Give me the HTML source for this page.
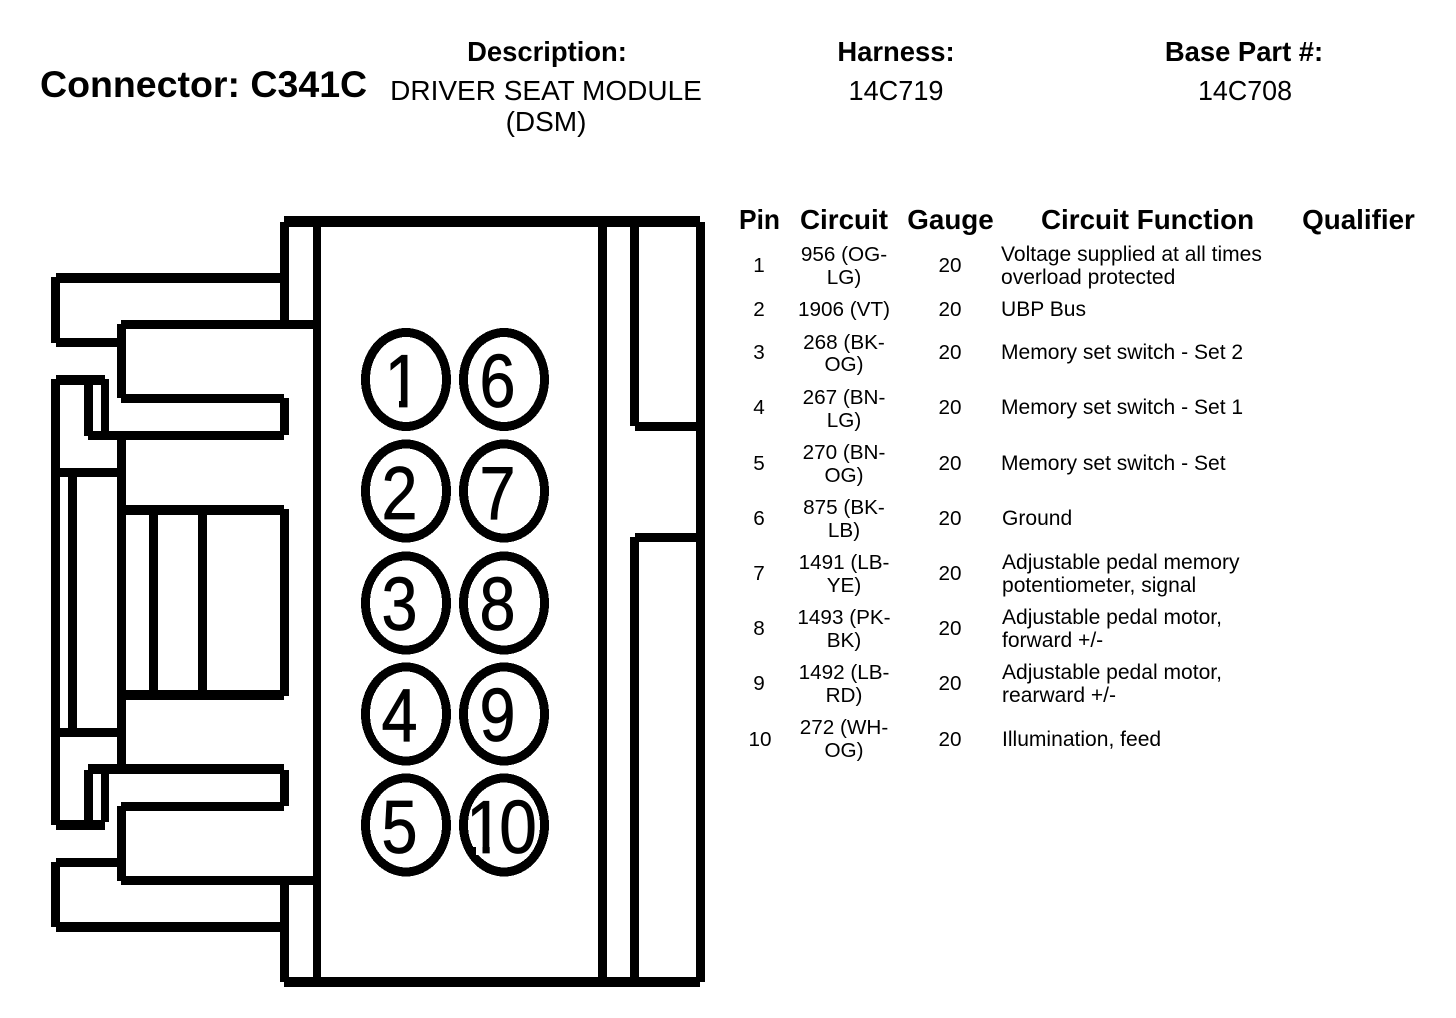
<!DOCTYPE html>
<html><head><meta charset="utf-8"><title>Connector C341C</title>
<style>
html,body{margin:0;padding:0;background:#fff;width:1456px;height:1018px;overflow:hidden}
svg{display:block}
text{font-family:"Liberation Sans",Arial,sans-serif;fill:#000}
.h{font-weight:bold;font-size:27.4px;text-anchor:middle}
.t{font-weight:bold;font-size:27.8px;text-anchor:middle}
.v{font-size:28px;text-anchor:middle}
.r{font-size:20.7px}
.f{font-size:21.05px}
.c{text-anchor:middle}
.n{font-size:75px;text-anchor:middle;stroke:#000;stroke-width:.8px}
.m{font-size:75px;stroke:#000;stroke-width:.8px}
.b rect{fill:#000}
ellipse{fill:#fff;stroke:#000;stroke-width:9}
</style></head><body>
<svg width="1456" height="1018" viewBox="0 0 1456 1018" xmlns="http://www.w3.org/2000/svg">
<rect width="1456" height="1018" fill="#fff"/>
<g class="b" shape-rendering="crispEdges">
<rect x="284" y="216" width="416" height="11"/>
<rect x="284" y="977" width="416" height="10"/>
<rect x="280" y="222" width="9" height="103"/>
<rect x="280" y="880" width="9" height="102"/>
<rect x="313" y="222" width="8" height="760"/>
<rect x="598" y="222" width="9" height="760"/>
<rect x="630" y="222" width="9" height="204"/>
<rect x="630" y="537" width="9" height="445"/>
<rect x="696" y="222" width="9" height="760"/>
<rect x="635" y="422" width="61" height="9"/>
<rect x="635" y="533" width="61" height="9"/>
<rect x="56" y="273" width="224" height="10"/>
<rect x="51" y="277" width="9" height="66"/>
<rect x="56" y="338" width="61" height="9"/>
<rect x="121" y="320" width="192" height="9"/>
<rect x="117" y="324" width="9" height="74"/>
<rect x="121" y="394" width="163" height="9"/>
<rect x="280" y="398" width="9" height="37"/>
<rect x="88" y="431" width="196" height="9"/>
<rect x="84" y="381" width="9" height="55"/>
<rect x="101" y="379" width="8" height="52"/>
<rect x="56" y="375" width="49" height="10"/>
<rect x="51" y="379" width="9" height="446"/>
<rect x="117" y="440" width="9" height="324"/>
<rect x="60" y="468" width="57" height="9"/>
<rect x="68" y="477" width="9" height="251"/>
<rect x="126" y="505" width="158" height="10"/>
<rect x="280" y="509" width="9" height="187"/>
<rect x="126" y="690" width="158" height="10"/>
<rect x="149" y="515" width="9" height="175"/>
<rect x="198" y="515" width="9" height="175"/>
<rect x="60" y="728" width="57" height="9"/>
<rect x="88" y="764" width="196" height="10"/>
<rect x="84" y="770" width="9" height="55"/>
<rect x="101" y="774" width="8" height="48"/>
<rect x="56" y="820" width="49" height="10"/>
<rect x="280" y="770" width="9" height="36"/>
<rect x="121" y="802" width="163" height="9"/>
<rect x="117" y="806" width="9" height="75"/>
<rect x="121" y="876" width="192" height="9"/>
<rect x="56" y="858" width="61" height="9"/>
<rect x="51" y="862" width="9" height="65"/>
<rect x="56" y="922" width="224" height="10"/>
</g>
<g shape-rendering="crispEdges">
<ellipse cx="406" cy="379.5" rx="40.5" ry="47"/>
<ellipse cx="504" cy="379.5" rx="40.5" ry="47"/>
<ellipse cx="406" cy="491" rx="40.5" ry="47"/>
<ellipse cx="504" cy="491" rx="40.5" ry="47"/>
<ellipse cx="406" cy="603" rx="40.5" ry="47"/>
<ellipse cx="504" cy="603" rx="40.5" ry="47"/>
<ellipse cx="406" cy="714" rx="40.5" ry="47"/>
<ellipse cx="504" cy="714" rx="40.5" ry="47"/>
<ellipse cx="406" cy="825" rx="40.5" ry="47"/>
<ellipse cx="504" cy="825" rx="40.5" ry="47"/>
</g>
<text class="n" x="403" y="407" textLength="37" lengthAdjust="spacingAndGlyphs">1</text>
<rect x="386" y="400" width="13" height="9" fill="#fff"/>
<rect x="407.5" y="400" width="14" height="9" fill="#fff"/>
<text class="n" x="497.5" y="407" textLength="36" lengthAdjust="spacingAndGlyphs">6</text>
<text class="n" x="399.5" y="519" textLength="36" lengthAdjust="spacingAndGlyphs">2</text>
<text class="n" x="497.5" y="519" textLength="36" lengthAdjust="spacingAndGlyphs">7</text>
<text class="n" x="399.5" y="630" textLength="36" lengthAdjust="spacingAndGlyphs">3</text>
<text class="n" x="497.5" y="630" textLength="36" lengthAdjust="spacingAndGlyphs">8</text>
<text class="n" x="399.5" y="741" textLength="36" lengthAdjust="spacingAndGlyphs">4</text>
<text class="n" x="497.5" y="741" textLength="36" lengthAdjust="spacingAndGlyphs">9</text>
<text class="n" x="399.5" y="853" textLength="36" lengthAdjust="spacingAndGlyphs">5</text>
<text class="m" transform="translate(466,853) scale(.9,1)" x="0 37" y="0">10</text>
<rect x="476" y="846" width="6.5" height="9" fill="#fff"/>
<rect x="489.7" y="846" width="11.3" height="9" fill="#fff"/>
<text x="40" y="97" font-weight="bold" font-size="37.5">Connector: C341C</text>
<text class="h" x="547" y="61">Description:</text>
<text class="h" x="896" y="61">Harness:</text>
<text class="h" x="1244" y="61">Base Part #:</text>
<text class="v" x="546" y="100">DRIVER SEAT MODULE</text>
<text class="v" x="546" y="131">(DSM)</text>
<text class="v" x="896" y="100" textLength="95" lengthAdjust="spacingAndGlyphs">14C719</text>
<text class="v" x="1245" y="100" textLength="94" lengthAdjust="spacingAndGlyphs">14C708</text>
<text class="t" x="759.5" y="229" textLength="41" lengthAdjust="spacingAndGlyphs">Pin</text>
<text class="t" x="844" y="229">Circuit</text>
<text class="t" x="950.5" y="229">Gauge</text>
<text class="t" x="1147.5" y="229">Circuit Function</text>
<text class="t" x="1358.5" y="229">Qualifier</text>
<g>
<text class="r c" x="759" y="272">1</text><text class="r c" x="844" y="261">956 (OG-</text><text class="r c" x="844" y="284">LG)</text><text class="r c" x="950" y="272">20</text><text class="f" x="1001" y="261">Voltage supplied at all times</text><text class="f" x="1001" y="284">overload protected</text>
<text class="r c" x="759" y="316">2</text><text class="r c" x="844" y="316">1906 (VT)</text><text class="r c" x="950" y="316">20</text><text class="f" x="1001" y="316">UBP Bus</text>
<text class="r c" x="759" y="359">3</text><text class="r c" x="844" y="349">268 (BK-</text><text class="r c" x="844" y="371">OG)</text><text class="r c" x="950" y="359">20</text><text class="f" x="1001" y="359">Memory set switch - Set 2</text>
<text class="r c" x="759" y="414">4</text><text class="r c" x="844" y="404">267 (BN-</text><text class="r c" x="844" y="427">LG)</text><text class="r c" x="950" y="414">20</text><text class="f" x="1001" y="414">Memory set switch - Set 1</text>
<text class="r c" x="759" y="470">5</text><text class="r c" x="844" y="459">270 (BN-</text><text class="r c" x="844" y="482">OG)</text><text class="r c" x="950" y="470">20</text><text class="f" x="1001" y="470">Memory set switch - Set</text>
<text class="r c" x="759" y="525">6</text><text class="r c" x="844" y="514">875 (BK-</text><text class="r c" x="844" y="537">LB)</text><text class="r c" x="950" y="525">20</text><text class="f" x="1002" y="525">Ground</text>
<text class="r c" x="759" y="580">7</text><text class="r c" x="844" y="569">1491 (LB-</text><text class="r c" x="844" y="592">YE)</text><text class="r c" x="950" y="580">20</text><text class="f" x="1002" y="569">Adjustable pedal memory</text><text class="f" x="1002" y="592">potentiometer, signal</text>
<text class="r c" x="759" y="635">8</text><text class="r c" x="844" y="624">1493 (PK-</text><text class="r c" x="844" y="647">BK)</text><text class="r c" x="950" y="635">20</text><text class="f" x="1002" y="624">Adjustable pedal motor,</text><text class="f" x="1002" y="647">forward +/-</text>
<text class="r c" x="759" y="690">9</text><text class="r c" x="844" y="679">1492 (LB-</text><text class="r c" x="844" y="702">RD)</text><text class="r c" x="950" y="690">20</text><text class="f" x="1002" y="679">Adjustable pedal motor,</text><text class="f" x="1002" y="702">rearward +/-</text>
<text class="r c" x="760" y="746">10</text><text class="r c" x="844" y="734">272 (WH-</text><text class="r c" x="844" y="757">OG)</text><text class="r c" x="950" y="746">20</text><text class="f" x="1002" y="746">Illumination, feed</text>
</g>
</svg>
</body></html>
